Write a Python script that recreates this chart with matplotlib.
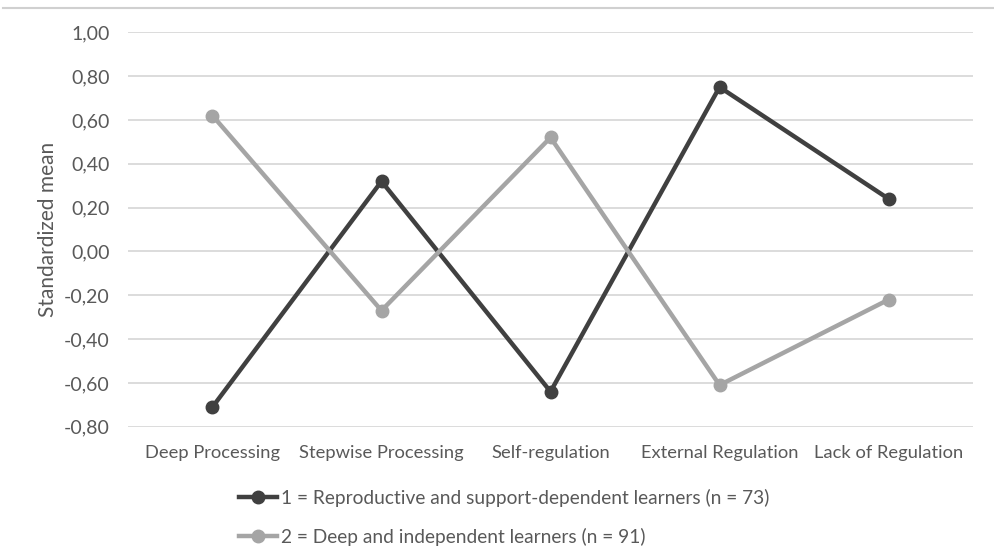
import matplotlib
matplotlib.use('Agg')
import matplotlib.pyplot as plt
from matplotlib.lines import Line2D

categories = ['Deep Processing', 'Stepwise Processing', 'Self-regulation',
              'External Regulation', 'Lack of Regulation']
group1 = [-0.71, 0.32, -0.64, 0.75, 0.24]
group2 = [0.62, -0.27, 0.52, -0.61, -0.22]
labels = ['1 = Reproductive and support-dependent learners (n = 73)',
          '2 = Deep and independent learners (n = 91)']
yticks = [-0.8, -0.6, -0.4, -0.2, 0.0, 0.2, 0.4, 0.6, 0.8, 1.0]

plt.rcParams['font.family'] = ['Lato', 'DejaVu Sans']
TEXT = '#595959'

fig = plt.figure(figsize=(9.95, 5.6), dpi=100)
ax = fig.add_axes([0.1286, 0.238, 0.8494, 0.7043])

x = range(len(categories))
h1, = ax.plot(x, group1, color='#404040', lw=3.2, marker='o', ms=9, zorder=3)
h2, = ax.plot(x, group2, color='#a5a5a5', lw=3.2, marker='o', ms=9, zorder=3)

ax.set_xlim(-0.5, len(categories) - 0.5)
ax.set_ylim(-0.8, 1.0)
ax.set_yticks(yticks)
ax.set_yticklabels([f'{v:.2f}'.replace('.', ',').replace('-0,00', '0,00') for v in yticks])
ax.set_xticks(list(x))
ax.set_xticklabels(categories)
ax.tick_params(length=0, colors=TEXT)
ax.tick_params(axis='y', labelsize=14, pad=13)
ax.tick_params(axis='x', labelsize=13.2, pad=13)
ax.grid(axis='y', color='#d9d9d9', lw=1.3)
ax.set_axisbelow(True)
for s in ax.spines.values():
    s.set_visible(False)
ax.set_ylabel('Standardized mean', fontsize=15, color=TEXT, labelpad=4)

fig.legend([h1, h2], labels, loc='upper left', bbox_to_anchor=(0.232, 0.141),
           frameon=False, fontsize=13.8, labelcolor=TEXT, handlelength=2.0,
           handletextpad=0.2, labelspacing=1.1, borderaxespad=0)

# thin frame line along the top of the chart area
fig.add_artist(Line2D([0.003, 1.0], [0.986, 0.986], transform=fig.transFigure,
                      color='#d0d0d0', lw=1.5))

fig.savefig('out.png', dpi=100)
